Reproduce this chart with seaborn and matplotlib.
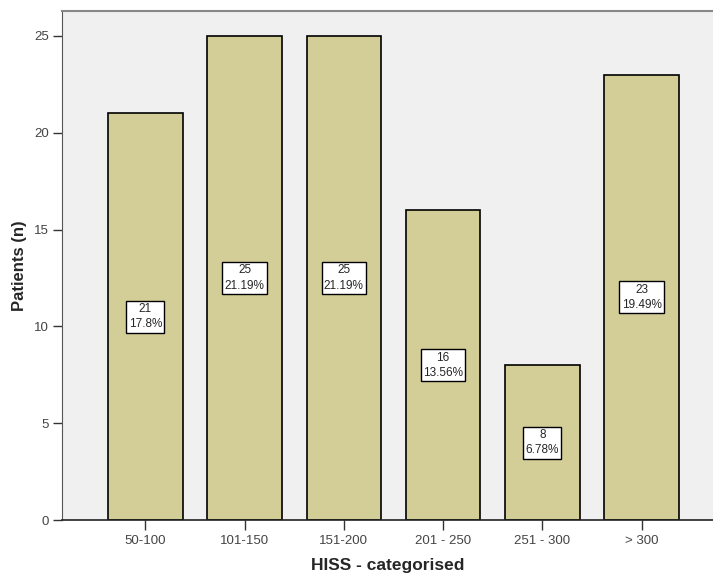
import numpy as np
import pandas as pd
import matplotlib
matplotlib.use("Agg")
import matplotlib.pyplot as plt
import seaborn as sns

categories = ["50-100", "101-150", "151-200", "201 - 250", "251 - 300", "> 300"]
patients = [21, 25, 25, 16, 8, 23]
pct_labels = ["17.8%", "21.19%", "21.19%", "13.56%", "6.78%", "19.49%"]

df = pd.DataFrame({"hiss": categories, "n": patients})

sns.set_style("white")
plt.rcParams['font.family'] = ['Liberation Sans', 'DejaVu Sans']

fig = plt.figure(figsize=(7.13, 5.76), dpi=100)
ax = fig.add_axes([0.087, 0.0972, 0.913, 0.884])
ax.set_facecolor("#F0F0F0")

sns.barplot(data=df, x="hiss", y="n", order=categories, color="#D3CE97",
            edgecolor="black", linewidth=1.2, width=0.75, saturation=1, ax=ax)

# count / percent boxes in the middle of each bar
for i, (n, p) in enumerate(zip(patients, pct_labels)):
    ax.text(i, n / 2, f"{n}\n{p}", ha="center", va="center", fontsize=8.5,
            linespacing=1.35,
            bbox=dict(boxstyle="square,pad=0.2", fc="white", ec="black", lw=1))

ax.set_xlim(-0.84, 5.72)
ax.set_ylim(0, 26.3)
ax.set_yticks([0, 5, 10, 15, 20, 25])

ax.spines["right"].set_visible(False)
ax.spines["top"].set_color("#888888")
ax.spines["top"].set_linewidth(1.5)
ax.spines["left"].set_color("#555555")
ax.spines["bottom"].set_color("#222222")
ax.spines["bottom"].set_linewidth(1.2)

ax.tick_params(axis="y", left=True, direction="out", length=6.5, width=1,
               color="#333333", labelcolor="#444444", labelsize=9.5, pad=3)
ax.tick_params(axis="x", bottom=True, direction="out", length=7, width=1,
               color="#333333", labelcolor="#444444", labelsize=9.5, pad=4)

ax.set_xlabel("HISS - categorised", fontsize=12.5, fontweight="bold", labelpad=8)
ax.set_ylabel("Patients (n)", fontsize=12, fontweight="bold", labelpad=5)

fig.savefig("out.png", dpi=100)
